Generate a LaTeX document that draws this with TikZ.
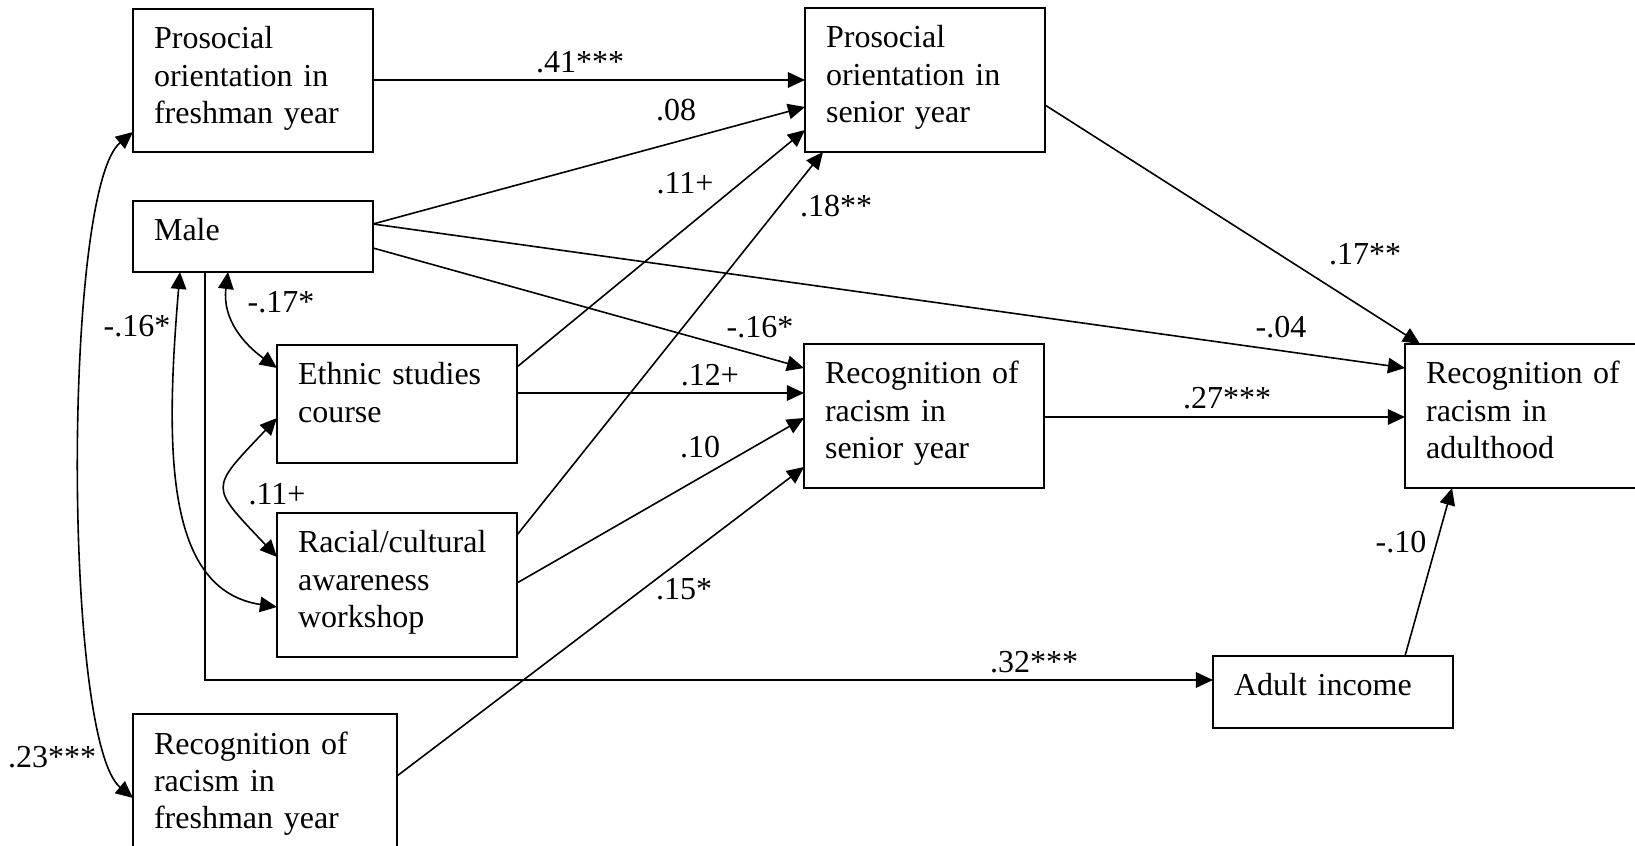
\documentclass[tikz,border=0pt]{standalone}
\usepackage{fontspec}
\setmainfont{Liberation Serif}
\usetikzlibrary{arrows.meta,calc}

\begin{document}
\begin{tikzpicture}[x=0.375pt, y=-0.375pt,
  font=\fontsize{12}{13.9}\selectfont,
  varbox/.style={draw, line width=0.8pt, anchor=north west, outer sep=0pt,
    inner xsep=7.9pt, inner ysep=0pt, text width=74.2pt, align=left,
    text height=15pt, text depth=#1},
  arr/.style={line width=0.6pt, -{Triangle[length=6.4pt,width=5.8pt]}},
  corr/.style={line width=0.6pt, {Triangle[length=6.4pt,width=5.8pt]}-{Triangle[length=6.4pt,width=5.8pt]}},
  coef/.style={inner sep=0pt}]
\useasboundingbox (0,0) rectangle (1635,846);

% variables
\node[varbox=38.6pt] (pf) at (133,9) {Prosocial\\orientation in\\freshman year};
\node[varbox=11.6pt] (male) at (133,201) {Male};
\node[varbox=29.3pt] (eth) at (277,345) {Ethnic studies\\course};
\node[varbox=39pt] (rac) at (277,513) {Racial/cultural\\awareness\\workshop};
\node[varbox=45pt, text width=83.2pt] (rf) at (133,714) {Recognition of\\racism in\\freshman year};
\node[varbox=39pt] (ps) at (805,8) {Prosocial\\orientation in\\senior year};
\node[varbox=39pt] (rs) at (804,344) {Recognition of\\racism in\\senior year};
\node[varbox=39pt] (ad) at (1405,344) {Recognition of\\racism in\\adulthood};
\node[varbox=12pt] (inc) at (1213,656) {Adult income};

% paths
\draw[arr] ($(pf.north east)+(0,71)$) -- ($(ps.north west)+(0,72)$);
\draw[arr] ($(male.north east)+(0,23)$) -- ($(ps.north west)+(0,99)$);
\draw[arr] ($(eth.north east)+(0,22)$) -- ($(ps.north west)+(0,122)$);
\draw[arr] ($(rac.north east)+(0,22)$) -- ($(ps.south west)+(18,0)$);
\draw[arr] ($(ps.north east)+(0,97)$) -- ($(ad.north west)+(15,0)$);
\draw[arr] ($(male.north east)+(0,23)$) -- ($(ad.north west)+(0,24)$);
\draw[arr] ($(male.north east)+(0,47)$) -- ($(rs.north west)+(0,24)$);
\draw[arr] ($(eth.north east)+(0,48)$) -- ($(rs.north west)+(0,49)$);
\draw[arr] ($(rac.north east)+(0,70)$) -- ($(rs.north west)+(0,74)$);
\draw[arr] ($(rf.north east)+(0,62)$) -- ($(rs.north west)+(0,123)$);
\draw[arr] ($(rs.north east)+(0,73)$) -- ($(ad.north west)+(0,73)$);
\draw[arr] ($(inc.north west)+(192,0)$) -- ($(ad.south west)+(47,0)$);
\draw[arr] ($(male.south west)+(72,0)$) |- ($(inc.north west)+(0,24)$);

% correlations
\draw[corr] ($(pf.north west)+(0,123)$) .. controls +(-70,58) and +(-70,-58) .. ($(rf.north west)+(0,84)$);
\draw[corr] ($(male.south west)+(47,0)$) .. controls +(-15,178) and +(-112,-17) .. ($(rac.north west)+(0,94)$);
\draw[corr] ($(male.south west)+(95,0)$) .. controls +(-6,48) and +(-32,-23) .. ($(eth.north west)+(0,23)$);
\draw[corr] ($(eth.north west)+(0,73)$) .. controls +(-68,72) and +(-68,-72) .. ($(rac.north west)+(0,44)$);

% coefficients
\node[coef] (c41) at (580,62) {.41***};
\node[coef] (c08) at (676,110) {.08};
\node[coef] (c11a) at (685,183) {.11+};
\node[coef] (c18) at (836,206) {.18**};
\node[coef] (c17b) at (1365,254) {.17**};
\node[coef] (c04) at (1281,327) {-.04};
\node[coef] (c16b) at (760,327) {-.16*};
\node[coef] (c12) at (710,375) {.12+};
\node[coef] (c10) at (700,447) {.10};
\node[coef] (c15) at (684,589) {.15*};
\node[coef] (c27) at (1227,398) {.27***};
\node[coef] (c10b) at (1401,542) {-.10};
\node[coef] (c32) at (1034,662) {.32***};
\node[coef] (c23) at (52,757) {.23***};
\node[coef] (c16a) at (137,326) {-.16*};
\node[coef] (c17a) at (281,302) {-.17*};
\node[coef] (c11b) at (277,494) {.11+};
\end{tikzpicture}
\end{document}
